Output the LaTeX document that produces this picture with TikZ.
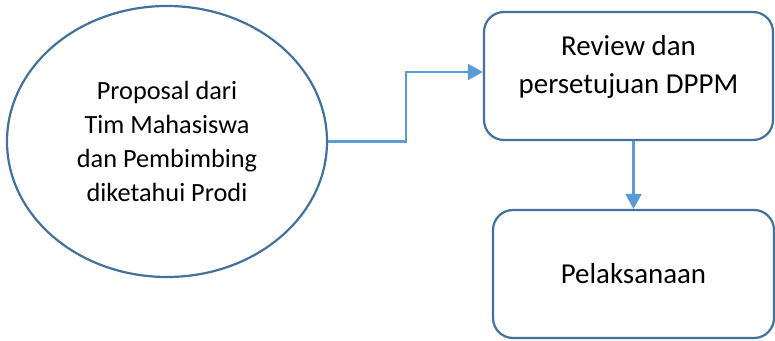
\documentclass[tikz,border=0pt]{standalone}
\usepackage{fontspec}
\setmainfont{Carlito}
\usetikzlibrary{shapes.geometric,arrows.meta}
\definecolor{edgeblue}{HTML}{41719C}
\definecolor{linkblue}{HTML}{5B9BD5}
\tikzset{
  outline/.style={draw=edgeblue, line width=2.2pt, fill=white},
  roundbox/.style={outline, rectangle, rounded corners=20pt, inner sep=0pt},
  link/.style={draw=linkblue, line width=2.2pt, -{Triangle[length=15pt,width=16pt]}},
  bigtext/.style={font=\fontsize{28.9}{38}\selectfont, align=center, text=black},
  midtext/.style={font=\fontsize{26.3}{34.3}\selectfont, align=center, text=black},
}
\begin{document}
\begin{tikzpicture}[x=1pt,y=1pt]
  \useasboundingbox (0,0) rectangle (775,340);

  % proposal ellipse
  \node[outline, ellipse, minimum width=320pt, minimum height=271pt, inner sep=0pt, midtext]
    (prop) at (167,198.5)
    {Proposal dari\\Tim Mahasiswa\\dan Pembimbing\\diketahui Prodi};

  % review box and its text
  \node[roundbox, minimum width=289pt, minimum height=128pt] (review) at (628.5,264) {};
  \node[bigtext] (reviewtxt) at ([yshift=9pt]review.center) {Review dan\\persetujuan DPPM};

  % implementation box
  \node[roundbox, minimum width=281pt, minimum height=128pt, bigtext] (impl) at (633.5,66) {Pelaksanaan};

  % connectors
  \draw[link] (prop.east) -- ++(78,0) |- ([yshift=4pt]review.west);
  \draw[link] (review.south -| impl.north) -- (impl.north);
\end{tikzpicture}
\end{document}
